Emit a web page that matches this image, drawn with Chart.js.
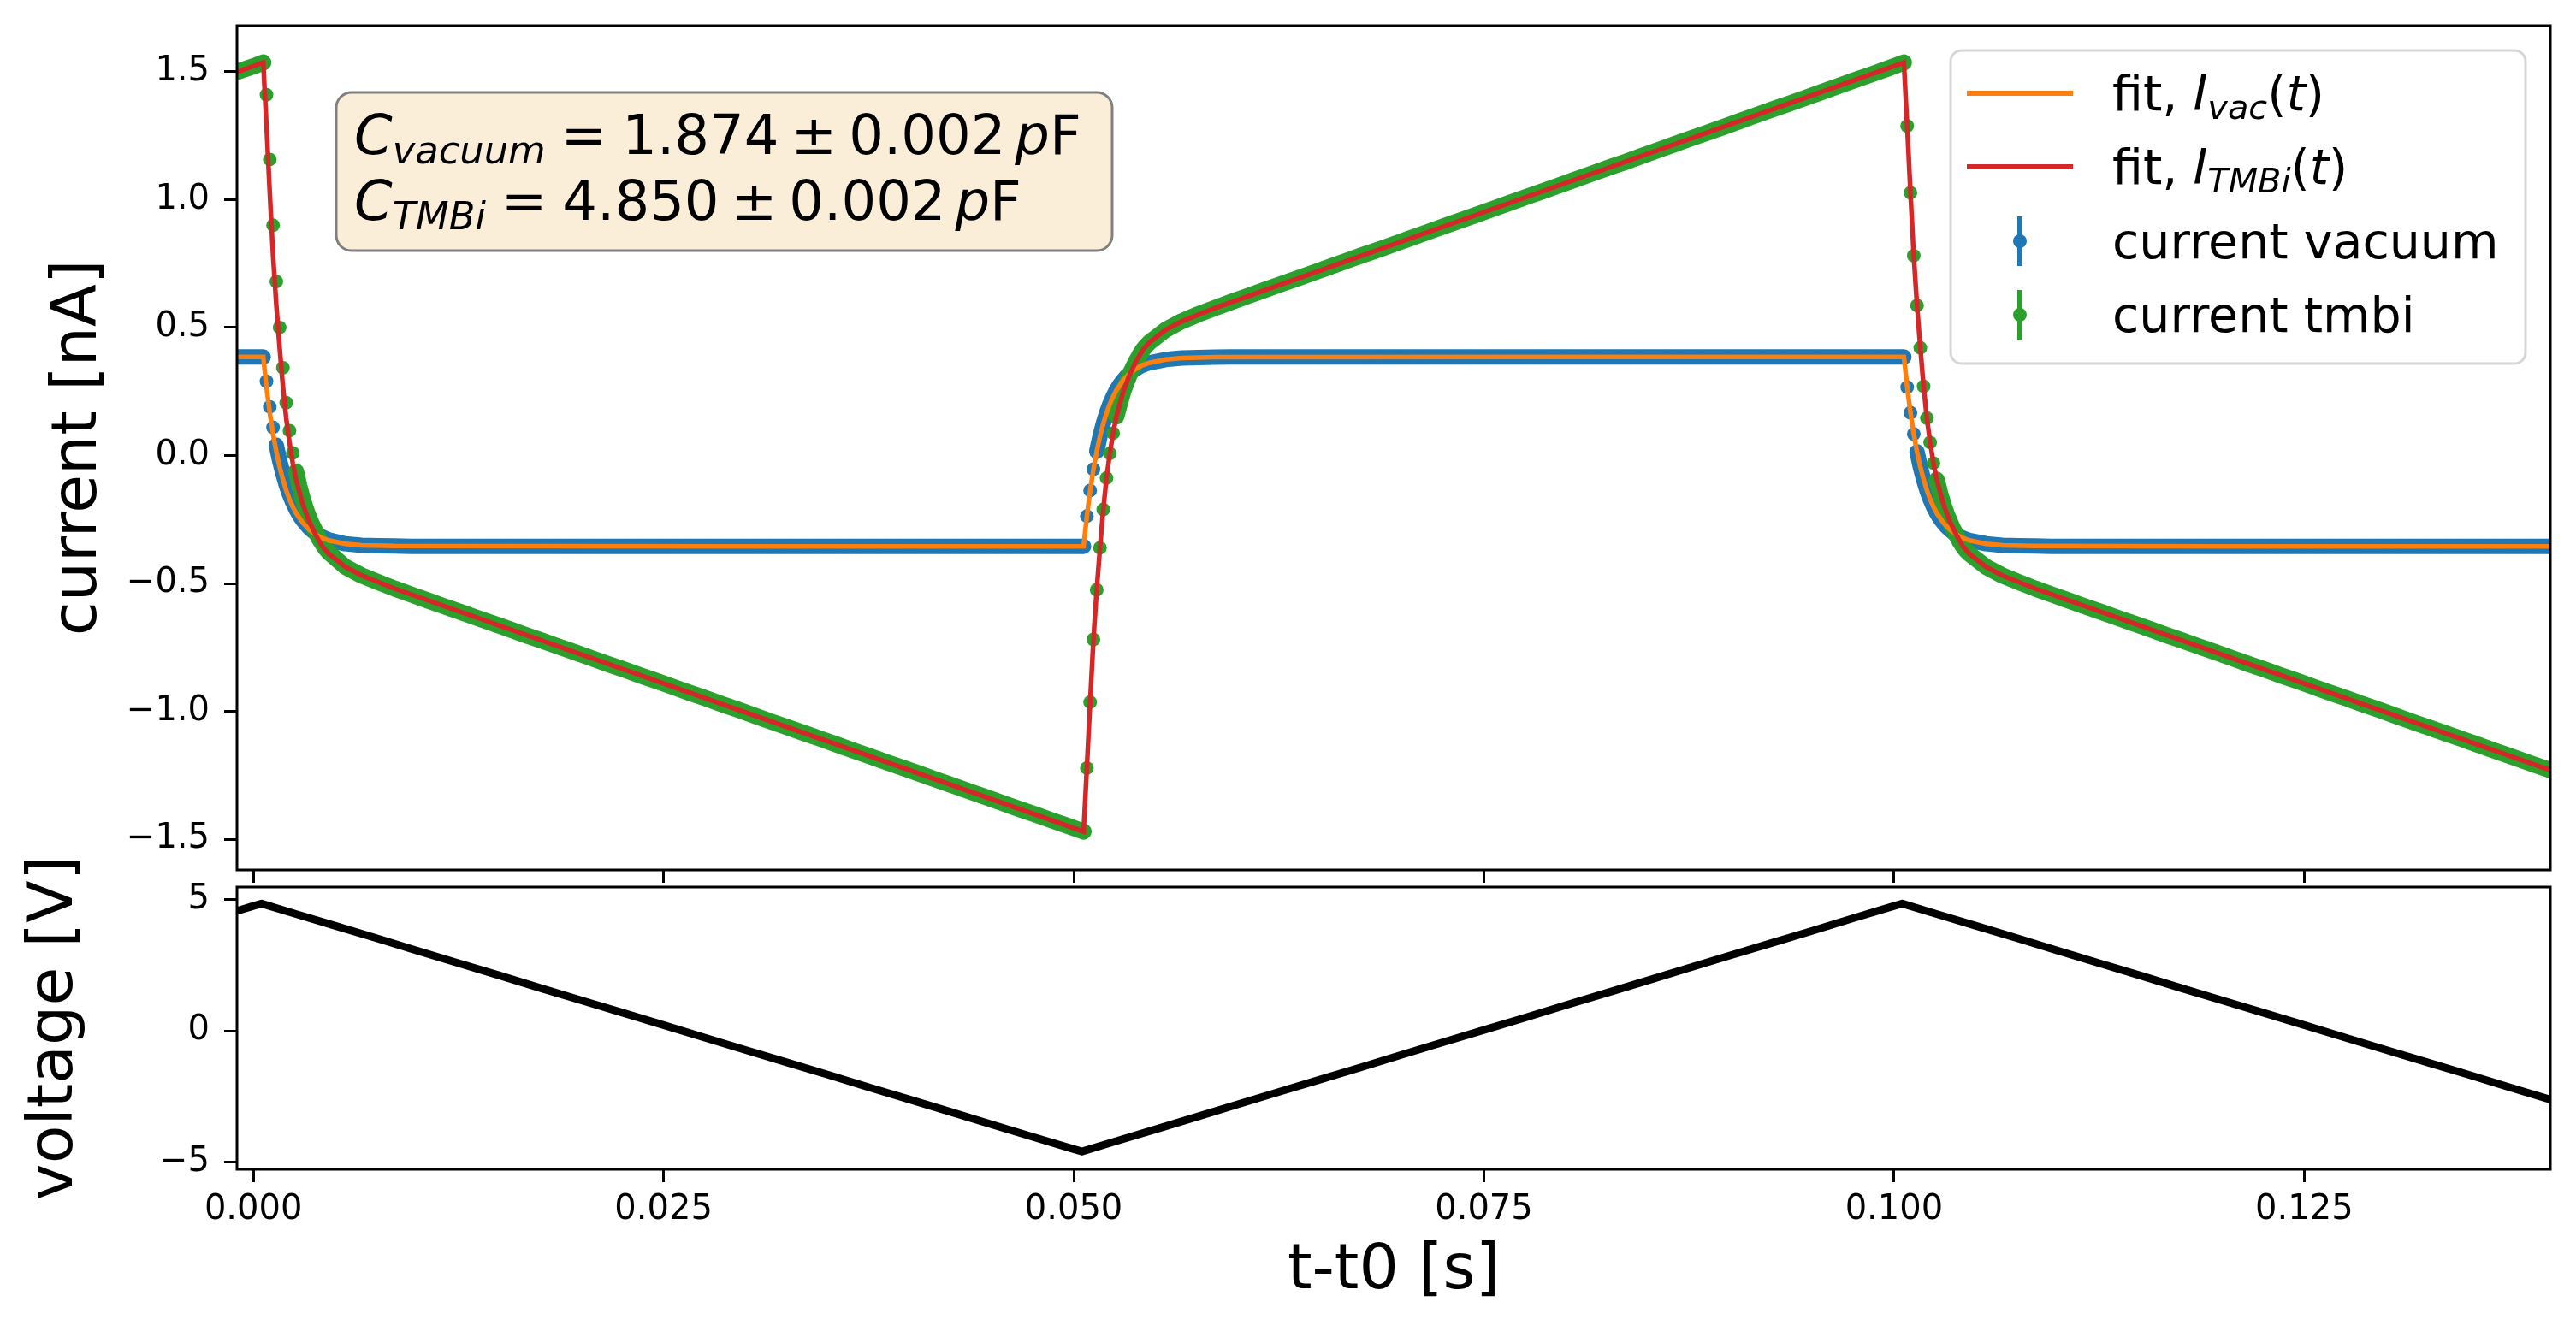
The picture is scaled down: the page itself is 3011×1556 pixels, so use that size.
<!DOCTYPE html>
<html>
<head>
<meta charset="utf-8">
<script src="https://cdn.jsdelivr.net/npm/chart.js@4.4.0/dist/chart.umd.min.js"></script>
<style>
  html, body { margin: 0; padding: 0; background: #fff; }
  body { width: 3011px; height: 1556px; position: relative; overflow: hidden; }
  canvas { position: absolute; left: 0; }
  #current { top: 0; }
  #voltage { top: 980px; }
</style>
</head>
<body>
<canvas id="current" width="3011" height="1040" style="width:3011px;height:1040px"></canvas>
<canvas id="voltage" width="3011" height="576" style="width:3011px;height:576px"></canvas>
<script>
// measured current samples, time in ms
const tDataMs = [
  -1, 0, 0.6,
  0.8, 1.0, 1.2, 1.4, 1.6, 1.8, 2.0, 2.2, 2.4, 2.6, 2.8, 3.0, 3.2, 3.4, 3.6, 3.8, 4.0, 4.2, 4.4, 4.6,
  5.6, 6.6, 7.6, 8.6, 9.6, 10.6, 11.6, 12.6, 13.6, 14.6, 15.6, 16.6, 17.6, 18.6, 19.6, 20.6, 21.6, 22.6, 23.6,
  24.6, 25.6, 26.6, 27.6, 28.6, 29.6, 30.6, 31.6, 32.6, 33.6, 34.6, 35.6, 36.6, 37.6, 38.6, 39.6, 40.6, 41.6,
  42.6, 43.6, 44.6, 45.6, 46.6, 47.6, 48.6, 49.6,
  50.6,
  50.8, 51.0, 51.2, 51.4, 51.6, 51.8, 52.0, 52.2, 52.4, 52.6, 52.8, 53.0, 53.2, 53.4, 53.6, 53.8, 54.0, 54.2, 54.4, 54.6,
  55.6, 56.6, 57.6, 58.6, 59.6, 60.6, 61.6, 62.6, 63.6, 64.6, 65.6, 66.6, 67.6, 68.6, 69.6, 70.6, 71.6, 72.6, 73.6,
  74.6, 75.6, 76.6, 77.6, 78.6, 79.6, 80.6, 81.6, 82.6, 83.6, 84.6, 85.6, 86.6, 87.6, 88.6, 89.6, 90.6, 91.6,
  92.6, 93.6, 94.6, 95.6, 96.6, 97.6, 98.6, 99.6,
  100.6,
  100.8, 101.0, 101.2, 101.4, 101.6, 101.8, 102.0, 102.2, 102.4, 102.6, 102.8, 103.0, 103.2, 103.4, 103.6, 103.8, 104.0, 104.2, 104.4, 104.6,
  105.6, 106.6, 107.6, 108.6, 109.6, 110.6, 111.6, 112.6, 113.6, 114.6, 115.6, 116.6, 117.6, 118.6, 119.6, 120.6, 121.6, 122.6,
  123.6, 124.6, 125.6, 126.6, 127.6, 128.6, 129.6, 130.6, 131.6, 132.6, 133.6, 134.6, 135.6, 136.6, 137.6, 138.6, 139.6,
  140
];
const iVacuum = [
  0.385, 0.385, 0.385,
  0.29, 0.19, 0.11, 0.04, -0.02, -0.07, -0.115, -0.152, -0.183, -0.21, -0.233, -0.252, -0.268, -0.282, -0.294, -0.304, -0.312, -0.319, -0.325, -0.33,
  -0.345, -0.351, -0.353, -0.354, -0.355, -0.355, -0.355, -0.355, -0.355, -0.355, -0.355, -0.355, -0.355, -0.355, -0.355,
  -0.355, -0.355, -0.355, -0.355, -0.355, -0.355, -0.355, -0.355, -0.355, -0.355, -0.355, -0.355, -0.355, -0.355, -0.355,
  -0.355, -0.355, -0.355, -0.355, -0.355, -0.355, -0.355, -0.355, -0.355, -0.355, -0.355, -0.355, -0.355, -0.355, -0.355,
  -0.355,
  -0.237, -0.137, -0.054, 0.016, 0.075, 0.124, 0.166, 0.201, 0.230, 0.255, 0.276, 0.293, 0.308, 0.320, 0.331, 0.339, 0.347, 0.353, 0.358, 0.362,
  0.375, 0.381, 0.383, 0.384, 0.385, 0.385, 0.385, 0.385, 0.385, 0.385, 0.385, 0.385, 0.385, 0.385, 0.385,
  0.385, 0.385, 0.385, 0.385, 0.385, 0.385, 0.385, 0.385, 0.385, 0.385, 0.385, 0.385, 0.385, 0.385, 0.385,
  0.385, 0.385, 0.385, 0.385, 0.385, 0.385, 0.385, 0.385, 0.385, 0.385, 0.385, 0.385, 0.385, 0.385, 0.385,
  0.385,
  0.267, 0.167, 0.084, 0.014, -0.045, -0.094, -0.136, -0.171, -0.200, -0.225, -0.246, -0.263, -0.278, -0.290, -0.301, -0.309, -0.317, -0.323, -0.328, -0.332,
  -0.345, -0.351, -0.353, -0.354, -0.355, -0.355, -0.355, -0.355, -0.355, -0.355, -0.355, -0.355, -0.355, -0.355, -0.355,
  -0.355, -0.355, -0.355, -0.355, -0.355, -0.355, -0.355, -0.355, -0.355, -0.355, -0.355, -0.355, -0.355, -0.355, -0.355,
  -0.355, -0.355, -0.355, -0.355, -0.355,
  -0.355
];
const iTmbi = [
  1.499, 1.521, 1.536,
  1.41, 1.157, 0.90, 0.68, 0.50, 0.343, 0.206, 0.097, 0.010, -0.063, -0.12, -0.168, -0.209, -0.243, -0.273, -0.298, -0.325, -0.345, -0.364, -0.379,
  -0.435, -0.469, -0.495, -0.520, -0.543, -0.566, -0.589, -0.611, -0.634, -0.656, -0.679, -0.702, -0.724, -0.747, -0.769,
  -0.792, -0.815, -0.837, -0.860, -0.882, -0.905, -0.928, -0.950, -0.973, -0.995, -1.018, -1.041, -1.063, -1.086, -1.108,
  -1.131, -1.154, -1.176, -1.199, -1.221, -1.244, -1.267, -1.289, -1.312, -1.334, -1.357, -1.380, -1.402, -1.425, -1.447,
  -1.470,
  -1.222, -0.964, -0.719, -0.525, -0.361, -0.211, -0.088, 0.008, 0.087, 0.153, 0.201, 0.246, 0.282, 0.315, 0.342, 0.368, 0.391, 0.412, 0.428, 0.441,
  0.491, 0.525, 0.552, 0.576, 0.600, 0.623, 0.646, 0.669, 0.691, 0.714, 0.737, 0.760, 0.783, 0.805, 0.828,
  0.851, 0.874, 0.897, 0.919, 0.942, 0.965, 0.988, 1.011, 1.033, 1.056, 1.079, 1.102, 1.125, 1.147, 1.170,
  1.193, 1.216, 1.239, 1.261, 1.284, 1.307, 1.330, 1.353, 1.375, 1.398, 1.421, 1.444, 1.467, 1.489, 1.512,
  1.536,
  1.288, 1.027, 0.781, 0.586, 0.421, 0.270, 0.146, 0.051, -0.030, -0.095, -0.146, -0.189, -0.227, -0.258, -0.287, -0.311, -0.336, -0.356, -0.372, -0.385,
  -0.435, -0.469, -0.495, -0.520, -0.543, -0.566, -0.589, -0.611, -0.634, -0.656, -0.679, -0.702, -0.724, -0.747, -0.769,
  -0.792, -0.815, -0.837, -0.860, -0.882, -0.905, -0.928, -0.950, -0.973, -0.995, -1.018, -1.041, -1.063, -1.086, -1.108,
  -1.131, -1.154, -1.176, -1.199, -1.221,
  -1.230
];
const errCurrent = 0.02;

// fitted curves, time in ms
const tFitMs = [
  -1,
  0.6, 0.8, 1.0, 1.2, 1.4, 1.6, 1.8, 2.0, 2.2, 2.4, 2.6, 3.0, 3.4, 3.8, 4.2, 4.6, 5.6, 6.6, 8.6, 30.6,
  50.6, 50.8, 51.0, 51.2, 51.4, 51.6, 51.8, 52.0, 52.2, 52.4, 52.6, 53.0, 53.4, 53.8, 54.2, 54.6, 55.6, 56.6, 58.6, 80.6,
  100.6, 100.8, 101.0, 101.2, 101.4, 101.6, 101.8, 102.0, 102.2, 102.4, 102.6, 103.0, 103.4, 103.8, 104.2, 104.6, 105.6, 106.6, 108.6, 120.6, 140
];
const fitVac = [
  0.385,
  0.385, 0.267, 0.167, 0.084, 0.014, -0.045, -0.094, -0.136, -0.171, -0.200, -0.225, -0.263, -0.290, -0.309, -0.323, -0.332, -0.345, -0.351, -0.354, -0.355,
  -0.355, -0.237, -0.137, -0.054, 0.016, 0.075, 0.124, 0.166, 0.201, 0.230, 0.255, 0.293, 0.320, 0.339, 0.353, 0.362, 0.375, 0.381, 0.384, 0.385,
  0.385, 0.267, 0.167, 0.084, 0.014, -0.045, -0.094, -0.136, -0.171, -0.200, -0.225, -0.263, -0.290, -0.309, -0.323, -0.332, -0.345, -0.351, -0.354, -0.355, -0.355
];
const fitTmbi = [
  1.499,
  1.536, 1.288, 1.027, 0.781, 0.586, 0.421, 0.270, 0.146, 0.051, -0.030, -0.095, -0.189, -0.258, -0.311, -0.356, -0.385, -0.435, -0.469, -0.520, -1.018,
  -1.470, -1.222, -0.964, -0.719, -0.525, -0.361, -0.211, -0.088, 0.008, 0.087, 0.153, 0.246, 0.315, 0.368, 0.412, 0.441, 0.491, 0.525, 0.576, 1.079,
  1.536, 1.288, 1.027, 0.781, 0.586, 0.421, 0.270, 0.146, 0.051, -0.030, -0.095, -0.189, -0.258, -0.311, -0.356, -0.385, -0.435, -0.469, -0.520, -0.792, -1.230
];

// voltage ramp, time in ms
const tVoltMs = [
  -1, 0, 0.5, 2.5, 5, 7.5, 10, 12.5, 15, 17.5, 20, 22.5, 25, 27.5, 30, 32.5, 35, 37.5, 40, 42.5, 45, 47.5, 50,
  50.5, 52.5, 55, 57.5, 60, 62.5, 65, 67.5, 70, 72.5, 75, 77.5, 80, 82.5, 85, 87.5, 90, 92.5, 95, 97.5, 100,
  100.5, 102.5, 105, 107.5, 110, 112.5, 115, 117.5, 120, 122.5, 125, 127.5, 130, 132.5, 135, 137.5, 140
];
const volt = [
  4.57, 4.76, 4.85, 4.47, 4.00, 3.53, 3.05, 2.58, 2.11, 1.63, 1.16, 0.69, 0.22, -0.26, -0.73, -1.20, -1.67, -2.15, -2.62, -3.09, -3.57, -4.04, -4.51,
  -4.60, -4.22, -3.75, -3.28, -2.80, -2.33, -1.86, -1.39, -0.91, -0.44, 0.03, 0.50, 0.98, 1.45, 1.92, 2.40, 2.87, 3.34, 3.81, 4.29, 4.76,
  4.85, 4.47, 4.00, 3.53, 3.05, 2.58, 2.11, 1.63, 1.16, 0.69, 0.22, -0.26, -0.73, -1.20, -1.67, -2.15, -2.62
];

const xTicks = [0, 0.025, 0.05, 0.075, 0.1, 0.125];
const xTickLabels = ['0.000', '0.025', '0.050', '0.075', '0.100', '0.125'];
const yTicksCurrent = [-1.5, -1, -0.5, 0, 0.5, 1, 1.5];
const yLabelsCurrent = ['\u22121.5', '\u22121.0', '\u22120.5', '0.0', '0.5', '1.0', '1.5'];
const yTicksVolt = [-5, 0, 5];
const yLabelsVolt = ['\u22125', '0', '5'];

const BLUE = '#1f77b4', ORANGE = '#ff7f0e', GREEN = '#2ca02c', RED = '#d62728';
Chart.defaults.font.family = '"DejaVu Sans", sans-serif';
Chart.defaults.color = '#000';

const toXY = (ts, ys) => ts.map((t, i) => ({ x: t / 1000, y: ys[i] }));

// hide the band between samples that jump (the transitions show single dots)
const bandColor = c => ctx => Math.abs(ctx.p1.y - ctx.p0.y) > 18 ? 'rgba(0,0,0,0)' : c;

function roundRect(ctx, x, y, w, h, r) {
  ctx.beginPath();
  ctx.moveTo(x + r, y);
  ctx.arcTo(x + w, y, x + w, y + h, r);
  ctx.arcTo(x + w, y + h, x, y + h, r);
  ctx.arcTo(x, y + h, x, y, r);
  ctx.arcTo(x, y, x + w, y, r);
  ctx.closePath();
}

// draw mathtext-like runs: italic, subscripts, extra spacing
function drawRuns(ctx, parts, x, y, size) {
  parts.forEach(p => {
    const s = p.sub ? size * 0.7 : size;
    ctx.font = (p.it ? 'italic ' : '') + s + 'px "DejaVu Sans"';
    x += (p.pre || 0) * size;
    ctx.fillText(p.t, x, y + (p.sub ? 0.17 * size : 0));
    x += ctx.measureText(p.t).width + (p.post || 0) * size;
  });
}

const framePlugin = {
  id: 'frame',
  afterDatasetsDraw(chart) {
    const { ctx, chartArea: a } = chart;
    ctx.save();
    ctx.strokeStyle = '#000';
    ctx.lineWidth = 3;
    ctx.strokeRect(a.left, a.top, a.right - a.left, a.bottom - a.top);
    ctx.restore();
  }
};

const errorBarPlugin = {
  id: 'errorBars',
  beforeDatasetDraw(chart, args) {
    const ds = chart.data.datasets[args.index];
    if (!ds.errY) return;
    const { ctx, chartArea: a } = chart;
    const y = chart.scales.y;
    ctx.save();
    ctx.beginPath();
    ctx.rect(a.left, a.top, a.right - a.left, a.bottom - a.top);
    ctx.clip();
    ctx.strokeStyle = ds.pointBackgroundColor;
    ctx.lineWidth = 4;
    ctx.beginPath();
    args.meta.data.forEach((p, i) => {
      const v = ds.data[i].y;
      ctx.moveTo(p.x, y.getPixelForValue(v - ds.errY));
      ctx.lineTo(p.x, y.getPixelForValue(v + ds.errY));
    });
    ctx.stroke();
    ctx.restore();
  }
};

const notesPlugin = {
  id: 'notes',
  afterDraw(chart) {
    const ctx = chart.ctx;
    ctx.save();
    ctx.textBaseline = 'alphabetic';
    ctx.fillStyle = '#000';

    // capacitance box
    roundRect(ctx, 393, 108, 907, 185, 18);
    ctx.fillStyle = 'rgba(245,222,179,0.5)';
    ctx.fill();
    ctx.strokeStyle = '#808080';
    ctx.lineWidth = 3;
    ctx.stroke();
    ctx.fillStyle = '#000';
    drawRuns(ctx, [{ t: 'C', it: 1 }, { t: 'vacuum', it: 1, sub: 1 }, { t: '=', pre: 0.28, post: 0.28 }, { t: '1.874' },
      { t: '\u00b1', pre: 0.22, post: 0.22 }, { t: '0.002' }, { t: 'p', it: 1, pre: 0.17 }, { t: 'F' }], 414, 180, 64);
    drawRuns(ctx, [{ t: 'C', it: 1 }, { t: 'TMBi', it: 1, sub: 1 }, { t: '=', pre: 0.28, post: 0.28 }, { t: '4.850' },
      { t: '\u00b1', pre: 0.22, post: 0.22 }, { t: '0.002' }, { t: 'p', it: 1, pre: 0.17 }, { t: 'F' }], 414, 257, 64);

    // legend
    roundRect(ctx, 2280, 59, 672, 366, 13);
    ctx.fillStyle = 'rgba(255,255,255,0.8)';
    ctx.fill();
    ctx.strokeStyle = '#d6d6d6';
    ctx.lineWidth = 3;
    ctx.stroke();

    const rows = [129, 215, 302, 388];
    ctx.lineWidth = 6;
    [ORANGE, RED].forEach((c, i) => {
      ctx.strokeStyle = c;
      ctx.beginPath();
      ctx.moveTo(2299, rows[i] - 20);
      ctx.lineTo(2423, rows[i] - 20);
      ctx.stroke();
    });
    [BLUE, GREEN].forEach((c, i) => {
      const cy = rows[i + 2] - 20;
      ctx.strokeStyle = c;
      ctx.fillStyle = c;
      ctx.beginPath();
      ctx.moveTo(2361, cy - 29);
      ctx.lineTo(2361, cy + 29);
      ctx.stroke();
      ctx.beginPath();
      ctx.arc(2361, cy, 8, 0, Math.PI * 2);
      ctx.fill();
    });
    ctx.fillStyle = '#000';
    drawRuns(ctx, [{ t: 'fit, ' }, { t: 'I', it: 1 }, { t: 'vac', it: 1, sub: 1 }, { t: '(' }, { t: 't', it: 1 }, { t: ')' }], 2469, rows[0], 57);
    drawRuns(ctx, [{ t: 'fit, ' }, { t: 'I', it: 1 }, { t: 'TMBi', it: 1, sub: 1 }, { t: '(' }, { t: 't', it: 1 }, { t: ')' }], 2469, rows[1], 57);
    drawRuns(ctx, [{ t: 'current vacuum' }], 2469, rows[2], 57);
    drawRuns(ctx, [{ t: 'current tmbi' }], 2469, rows[3], 57);
    ctx.restore();
  }
};

const tickGrid = { drawOnChartArea: false, drawTicks: true, tickLength: 15, tickWidth: 3, tickColor: '#000' };
const noPad = s => { s.paddingTop = 0; s.paddingBottom = 0; s.paddingLeft = 0; s.paddingRight = 0; };

const xScale = (showLabels, height, title) => ({
  type: 'linear',
  min: -0.001,
  max: 0.14,
  afterBuildTicks: axis => { axis.ticks = xTicks.map(v => ({ value: v })); },
  ticks: {
    display: showLabels, autoSkip: false, maxRotation: 0, minRotation: 0, padding: 9,
    font: { size: 40 }, color: '#000',
    callback: v => xTickLabels[xTicks.indexOf(v)]
  },
  grid: tickGrid,
  border: { display: false },
  title: title ? { display: true, text: title, font: { size: 73 }, color: '#000', padding: { top: 0, bottom: 25 } } : { display: false },
  afterFit: s => { s.height = height; noPad(s); }
});

const yScale = (min, max, ticks, labels, title, titlePad) => ({
  type: 'linear',
  min: min,
  max: max,
  afterBuildTicks: axis => { axis.ticks = ticks.map(v => ({ value: v })); },
  ticks: {
    padding: 17, font: { size: 40 }, color: '#000',
    callback: v => labels[ticks.indexOf(v)]
  },
  grid: tickGrid,
  border: { display: false },
  title: { display: true, text: title, font: { size: 73 }, color: '#000', padding: { top: titlePad, bottom: 0 } },
  afterFit: s => { s.width = 277; noPad(s); }
});

const baseOptions = {
  responsive: false,
  animation: false,
  devicePixelRatio: 1,
  events: [],
  plugins: { legend: { display: false }, tooltip: { enabled: false } }
};

new Chart(document.getElementById('current'), {
  type: 'line',
  data: {
    datasets: [{
      label: 'fit, I_vac(t)',
      data: toXY(tFitMs, fitVac),
      borderColor: ORANGE, borderWidth: 5.5, pointRadius: 0, order: 1, clip: 0
    }, {
      label: 'fit, I_TMBi(t)',
      data: toXY(tFitMs, fitTmbi),
      borderColor: RED, borderWidth: 5.5, pointRadius: 0, order: 0, clip: 0
    }, {
      label: 'current vacuum',
      data: toXY(tDataMs, iVacuum),
      errY: errCurrent,
      borderColor: BLUE, borderWidth: 18, borderJoinStyle: 'round', borderCapStyle: 'round',
      segment: { borderColor: bandColor(BLUE) },
      pointRadius: 8, pointBorderWidth: 0, pointBackgroundColor: BLUE, order: 3, clip: 0
    }, {
      label: 'current tmbi',
      data: toXY(tDataMs, iTmbi),
      errY: errCurrent,
      borderColor: GREEN, borderWidth: 19, borderJoinStyle: 'round', borderCapStyle: 'round',
      segment: { borderColor: bandColor(GREEN) },
      pointRadius: 8, pointBorderWidth: 0, pointBackgroundColor: GREEN, order: 2, clip: 0
    }]
  },
  options: Object.assign({}, baseOptions, {
    layout: { autoPadding: false, padding: { top: 30, right: 30, left: 0, bottom: 0 } },
    scales: {
      x: xScale(false, 23, null),
      y: yScale(-1.62, 1.68, yTicksCurrent, yLabelsCurrent, 'current [nA]', 49)
    }
  }),
  plugins: [errorBarPlugin, framePlugin, notesPlugin]
});

new Chart(document.getElementById('voltage'), {
  type: 'line',
  data: {
    datasets: [{
      label: 'voltage',
      data: toXY(tVoltMs, volt),
      borderColor: '#000', borderWidth: 9, borderJoinStyle: 'round', pointRadius: 0, clip: 0
    }]
  },
  options: Object.assign({}, baseOptions, {
    layout: { autoPadding: false, padding: { top: 57, right: 30, left: 0, bottom: 0 } },
    scales: {
      x: xScale(true, 189, 't-t0 [s]'),
      y: yScale(-5.28, 5.48, yTicksVolt, yLabelsVolt, 'voltage [V]', 21)
    }
  }),
  plugins: [framePlugin]
});
</script>
</body>
</html>
